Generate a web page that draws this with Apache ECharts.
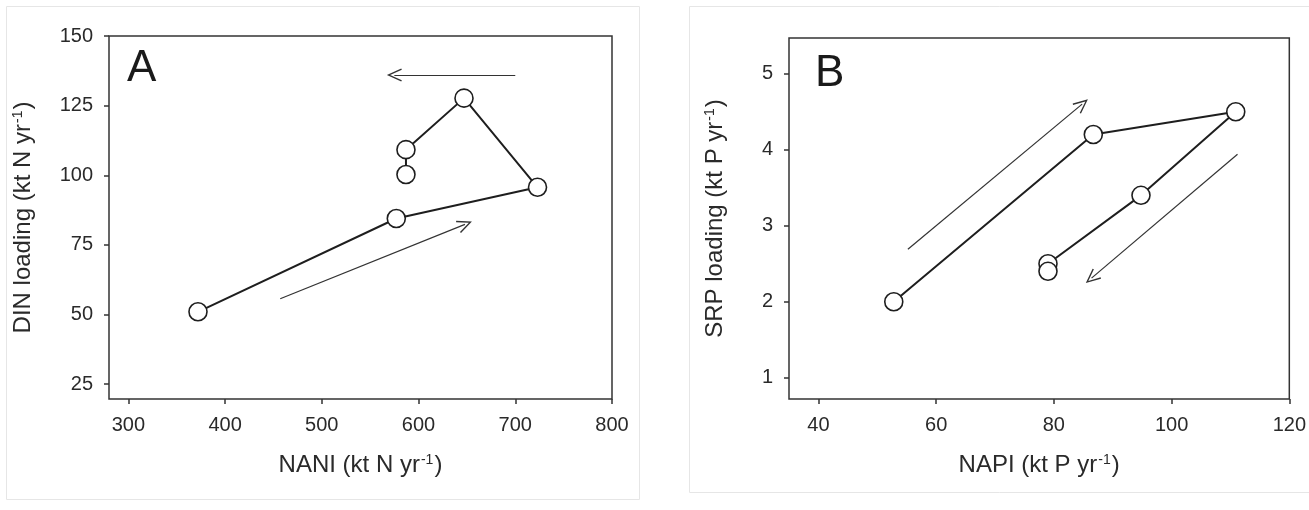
<!DOCTYPE html>
<html>
<head>
<meta charset="utf-8">
<script src="https://cdn.jsdelivr.net/npm/echarts@6/dist/echarts.min.js"></script>
<style>
html,body{margin:0;padding:0;background:#fff;}
#chart{width:1309px;height:510px;}
</style>
</head>
<body>
<div id="chart"></div>
<script>
// Panel A data
var naniX = [372, 577, 723, 647, 587, 587];
var dinY = [51, 84.5, 95.7, 127.7, 109.2, 100.3];
// Panel B data
var napiX = [52.8, 86.7, 110.9, 94.8, 79, 79];
var srpY = [2.0, 4.2, 4.5, 3.4, 2.5, 2.4];
// Tick labels
var ticksAx = [300, 400, 500, 600, 700, 800];
var ticksAy = [25, 50, 75, 100, 125, 150];
var ticksBx = [40, 60, 80, 100, 120];
var ticksBy = [1, 2, 3, 4, 5];
// Direction arrows (start, end) in data units
var arrowsA = [[[700, 136], [575, 136]], [[457, 55.7], [648, 82.4]]];
var arrowsB = [[[55.2, 2.69], [84.8, 4.6]], [[111.2, 3.94], [86.4, 2.31]]];

var FONT = '"Liberation Sans", Arial, sans-serif';
var AX = '#333';
var TXT = '#2a2a2a';
var chevron = 'path://M0,0 L6.5,14 L5.2,14.6 L0,3.2 L-5.2,14.6 L-6.5,14 Z';

function pairs(xs, ys) { return xs.map(function (x, i) { return [x, ys[i]]; }); }
function arrowData(arr) {
  return arr.map(function (a) { return [{ coord: a[0] }, { coord: a[1] }]; });
}
var nameStyle = { fontFamily: FONT, fontSize: 24, color: TXT,
  rich: { sup: { fontFamily: FONT, fontSize: 14, color: TXT, verticalAlign: 'top', padding: [0, 1, 0, 1] } } };
function axisCfg(idx, min, max, ticks, nameMain, gap) {
  return {
    type: 'value', gridIndex: idx, min: min, max: max,
    name: nameMain + '{sup|-1})', nameLocation: 'middle', nameGap: gap,
    nameTextStyle: nameStyle,
    axisLine: { show: false },
    axisTick: { show: true, inside: false, length: 5, lineStyle: { color: AX, width: 1.5 }, customValues: ticks },
    axisLabel: { fontFamily: FONT, fontSize: 20, color: TXT, margin: 16, customValues: ticks },
    splitLine: { show: false }
  };
}
function seriesCfg(idx, data, arrows) {
  return {
    type: 'line', xAxisIndex: idx, yAxisIndex: idx, data: data,
    symbol: 'circle', symbolSize: 18,
    itemStyle: { color: '#fff', borderColor: '#1e1e1e', borderWidth: 1.6 },
    lineStyle: { color: '#1e1e1e', width: 2 },
    animation: false, silent: true,
    markLine: {
      silent: true, animation: false,
      symbol: ['none', chevron], symbolSize: [13, 15],
      label: { show: false },
      lineStyle: { color: '#333', width: 1.2, type: 'solid' },
      emphasis: { disabled: true },
      data: arrowData(arrows)
    }
  };
}

var chart = echarts.init(document.getElementById('chart'), null, { renderer: 'canvas' });
chart.setOption({
  backgroundColor: '#fff',
  animation: false,
  grid: [
    { left: 109, top: 36, width: 503, height: 363, show: true, borderColor: AX, borderWidth: 1.5, backgroundColor: 'transparent' },
    { left: 789, top: 38, width: 501, height: 361, show: true, borderColor: AX, borderWidth: 1.5, backgroundColor: 'transparent' }
  ],
  xAxis: [
    axisCfg(0, 280, 800, ticksAx, 'NANI (kt N yr', 54),
    axisCfg(1, 35, 120, ticksBx, 'NAPI (kt P yr', 54)
  ],
  yAxis: [
    axisCfg(0, 19.7, 150, ticksAy, 'DIN loading (kt N yr', 74),
    axisCfg(1, 0.72, 5.47, ticksBy, 'SRP loading (kt P yr', 62)
  ],
  graphic: [
    { type: 'rect', shape: { x: 6.5, y: 6.5, width: 633, height: 493 }, style: { fill: 'none', stroke: '#e6e6e6', lineWidth: 1 }, silent: true },
    { type: 'rect', shape: { x: 689.5, y: 6.5, width: 640, height: 486 }, style: { fill: 'none', stroke: '#e6e6e6', lineWidth: 1 }, silent: true },
    { type: 'text', left: 127, top: 47, style: { text: 'A', font: '44px ' + FONT, fill: '#1a1a1a' } },
    { type: 'text', left: 815, top: 52, style: { text: 'B', font: '44px ' + FONT, fill: '#1a1a1a' } }
  ],
  series: [
    seriesCfg(0, pairs(naniX, dinY), arrowsA),
    seriesCfg(1, pairs(napiX, srpY), arrowsB)
  ]
});
</script>
</body>
</html>
